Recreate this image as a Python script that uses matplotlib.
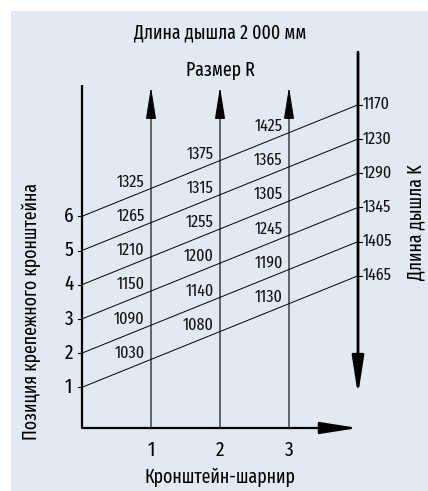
import matplotlib
matplotlib.use("Agg")
import matplotlib.pyplot as plt
from matplotlib.patches import Rectangle
from matplotlib import font_manager

# ---- data ----
positions = [1, 2, 3, 4, 5, 6]              # Позиция крепежного кронштейна
hinges = [1, 2, 3]                           # Кронштейн-шарнир
R_col1 = [1030, 1090, 1150, 1210, 1265, 1325]
R_col2 = [1080, 1140, 1200, 1255, 1315, 1375]
R_col3 = [1130, 1190, 1245, 1305, 1365, 1425]
K_values = [1465, 1405, 1345, 1290, 1230, 1170]
R_columns = [R_col1, R_col2, R_col3]

title = "Длина дышла 2 000 мм"
subtitle = "Размер R"
ylabel = "Позиция крепежного кронштейна"
xlabel = "Кронштейн-шарнир"
rlabel = "Длина дышла K"

# ---- layout constants ----
x_end = 4.0       # right (K) line position
rise = 3.26       # rise of each diagonal over x_end
y_axis = -0.19    # height of horizontal axis

fonts = font_manager.fontManager.ttflist
names = {f.name for f in fonts}
fam = "DejaVu Sans"
for cand in ["Fira Sans Extra Condensed", "PT Sans Narrow", "Roboto Condensed",
             "Fira Sans Condensed", "Liberation Sans Narrow"]:
    if cand in names:
        fam = cand
        break
plt.rcParams["font.family"] = [fam, "DejaVu Sans"]
plt.rcParams["font.weight"] = "normal"

W, H = 428, 491
fig = plt.figure(figsize=(W / 100, H / 100), dpi=100)
bg = Rectangle((11 / W, 0), 1 - 11 / W, 1 - 11 / H,
               transform=fig.transFigure, facecolor="#e1e9f1",
               edgecolor="none", zorder=-10)
fig.patches.append(bg)
ax = fig.add_axes([0, 0, 1, 1], zorder=5)
ax.set_axis_off()
ax.set_xlim(-82 / 69, (W - 82) / 69)
ax.set_ylim((421.5 - H) / 34.2, 421.5 / 34.2)

k = "#000000"
# left axis
ax.plot([0, 0], [y_axis, 9.84], color=k, lw=1.6, solid_capstyle="butt")
# bottom axis with arrow
ax.annotate("", xy=(x_end, y_axis), xytext=(0, y_axis),
            arrowprops=dict(arrowstyle="-|>,head_length=2.3,head_width=0.36",
                            lw=1.6, color=k, fc=k, mutation_scale=10,
                            shrinkA=0, shrinkB=0))
# right K axis with down arrow
ax.annotate("", xy=(x_end, 0.77), xytext=(x_end, 10.8),
            arrowprops=dict(arrowstyle="-|>,head_length=2.3,head_width=0.36",
                            lw=2.0, color=k, fc=k, mutation_scale=10,
                            shrinkA=0, shrinkB=0))
# vertical hinge lines with up arrows
for h in hinges:
    ax.annotate("", xy=(h, 9.78), xytext=(h, y_axis),
                arrowprops=dict(arrowstyle="-|>,head_length=2.0,head_width=0.32",
                                lw=0.8, color=k, fc=k, mutation_scale=10,
                                shrinkA=0, shrinkB=0))
    ax.text(h, -0.85, str(h), ha="center", va="center", fontsize=15, color=k)

# diagonal lines
slope = rise / x_end
for p in positions:
    ax.plot([0, x_end], [p, p + rise], color=k, lw=0.7)
    ax.plot([-0.06, 0], [p, p], color=k, lw=0.8)
    ax.text(-0.19, p, str(p), ha="center", va="center", fontsize=15, color=k)

# R labels
for j, col in enumerate(R_columns, start=1):
    xr = j - 0.09
    for p, v in zip(positions, col):
        ax.text(xr, p + slope * (xr - 0.05) + 0.3, str(v), ha="right",
                va="center", fontsize=12.5, color="#111111")

# K labels
for p, v in zip(positions, K_values):
    yk = p + rise
    ax.plot([x_end, x_end + 0.06], [yk, yk], color=k, lw=0.8)
    ax.text(x_end + 0.07, yk, str(v), ha="left", va="center", fontsize=12.5,
            color="#111111")

fig.text(220 / W, 1 - 33 / H, title, ha="center", va="center", fontsize=14)
fig.text(220 / W, 1 - 70 / H, subtitle, ha="center", va="center", fontsize=14)
fig.text(220 / W, 1 - 477 / H, xlabel, ha="center", va="center", fontsize=14)
fig.text(31 / W, 1 - 311 / H, ylabel, ha="center", va="center", rotation=90, fontsize=14)
fig.text(416 / W, 1 - 222 / H, rlabel, ha="center", va="center", rotation=90, fontsize=14)

fig.savefig("out.png", dpi=100)
